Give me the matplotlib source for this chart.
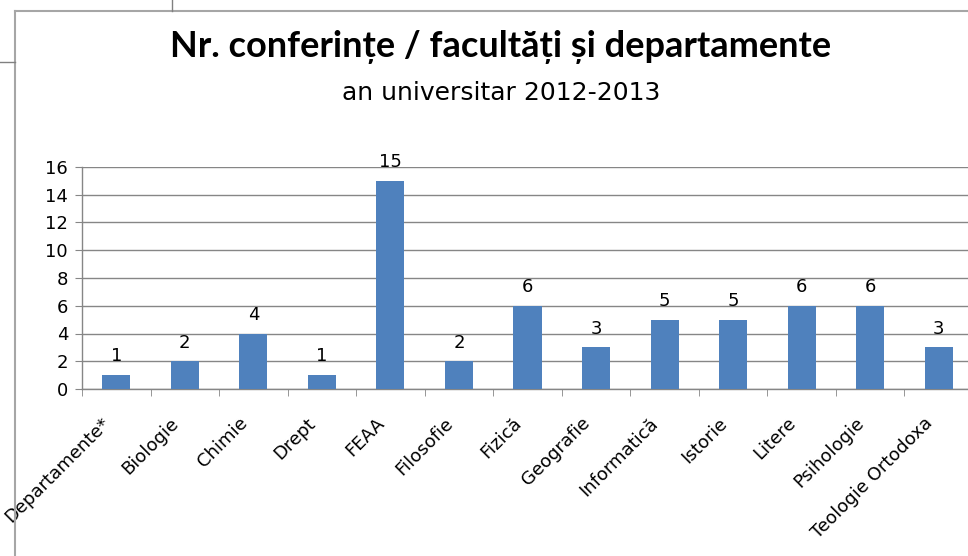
import matplotlib
matplotlib.use("Agg")
import matplotlib.pyplot as plt
from matplotlib.lines import Line2D
from matplotlib.transforms import ScaledTranslation


categories = ["Departamente*", "Biologie", "Chimie", "Drept", "FEAA", "Filosofie",
              "Fizică", "Geografie", "Informatică", "Istorie", "Litere", "Psihologie",
              "Teologie Ortodoxa"]
values = [1, 2, 4, 1, 15, 2, 6, 3, 5, 5, 6, 6, 3]
y_ticks = [0, 2, 4, 6, 8, 10, 12, 14, 16]

bar_color = "#4F81BD"
grid_color = "#868686"
label_font = ["DejaVu Sans"]

fig = plt.figure(figsize=(9.68, 5.56), dpi=100)

# cell borders / chart frame (figure pixel coords -> fractions)
W, H = 968.0, 556.0
def fline(x0, y0, x1, y1, color="#A6A6A6", lw=1.5):
    fig.add_artist(Line2D([x0 / W, x1 / W], [1 - y0 / H, 1 - y1 / H],
                          color=color, lw=lw, transform=fig.transFigure))

fline(15, 11, 968, 11)
fline(15, 11, 15, 556)
fline(172, 0, 172, 11, color="#808080", lw=1)
fline(0, 62, 15, 62, color="#808080", lw=1)

ax = fig.add_axes([82 / W, 1 - 389 / H, 891 / W, 222 / H])

x = list(range(len(categories)))
bars = ax.bar(x, values, width=0.41, color=bar_color, zorder=3)

for xi, v in zip(x, values):
    ax.annotate(str(v), (xi, v), xytext=(0, 7), textcoords="offset points",
                ha="center", va="bottom", fontsize=13, family=label_font)

ax.set_xlim(-0.5, len(categories) - 0.5)
ax.set_ylim(0, 16)
ax.set_yticks(y_ticks)
ax.set_yticklabels([str(t) for t in y_ticks], family=label_font, fontsize=13)
ax.yaxis.grid(True, color=grid_color, lw=1, zorder=0)

ax.set_xticks(x)
ax.set_xticklabels(categories, rotation=45, ha="right", rotation_mode="anchor",
                   family=label_font, fontsize=13)
ax.set_xticks([i - 0.5 for i in range(len(categories) + 1)], minor=True)
ax.tick_params(axis="x", which="major", length=0, pad=18)
ax.tick_params(axis="x", which="minor", length=5, color=grid_color, direction="out")
ax.tick_params(axis="y", length=5, color=grid_color, direction="out", pad=5)
for lab in ax.get_xticklabels():
    lab.set_transform(lab.get_transform() + ScaledTranslation(-11 / 72, 0, fig.dpi_scale_trans))

for s in ["top", "right"]:
    ax.spines[s].set_visible(False)
for s in ["left", "bottom"]:
    ax.spines[s].set_color(grid_color)
    ax.spines[s].set_linewidth(1)

fig.text(501 / W, 1 - 47 / H, "Nr. conferințe / facultăți și departamente",
         ha="center", va="center", fontsize=26, fontweight="bold",
         family=["Lato", "Open Sans", "DejaVu Sans"])
fig.text(501 / W, 1 - 93 / H, "an universitar 2012-2013", ha="center", va="center",
         fontsize=18, family=label_font)

fig.savefig("out.png", dpi=100, facecolor="white")
